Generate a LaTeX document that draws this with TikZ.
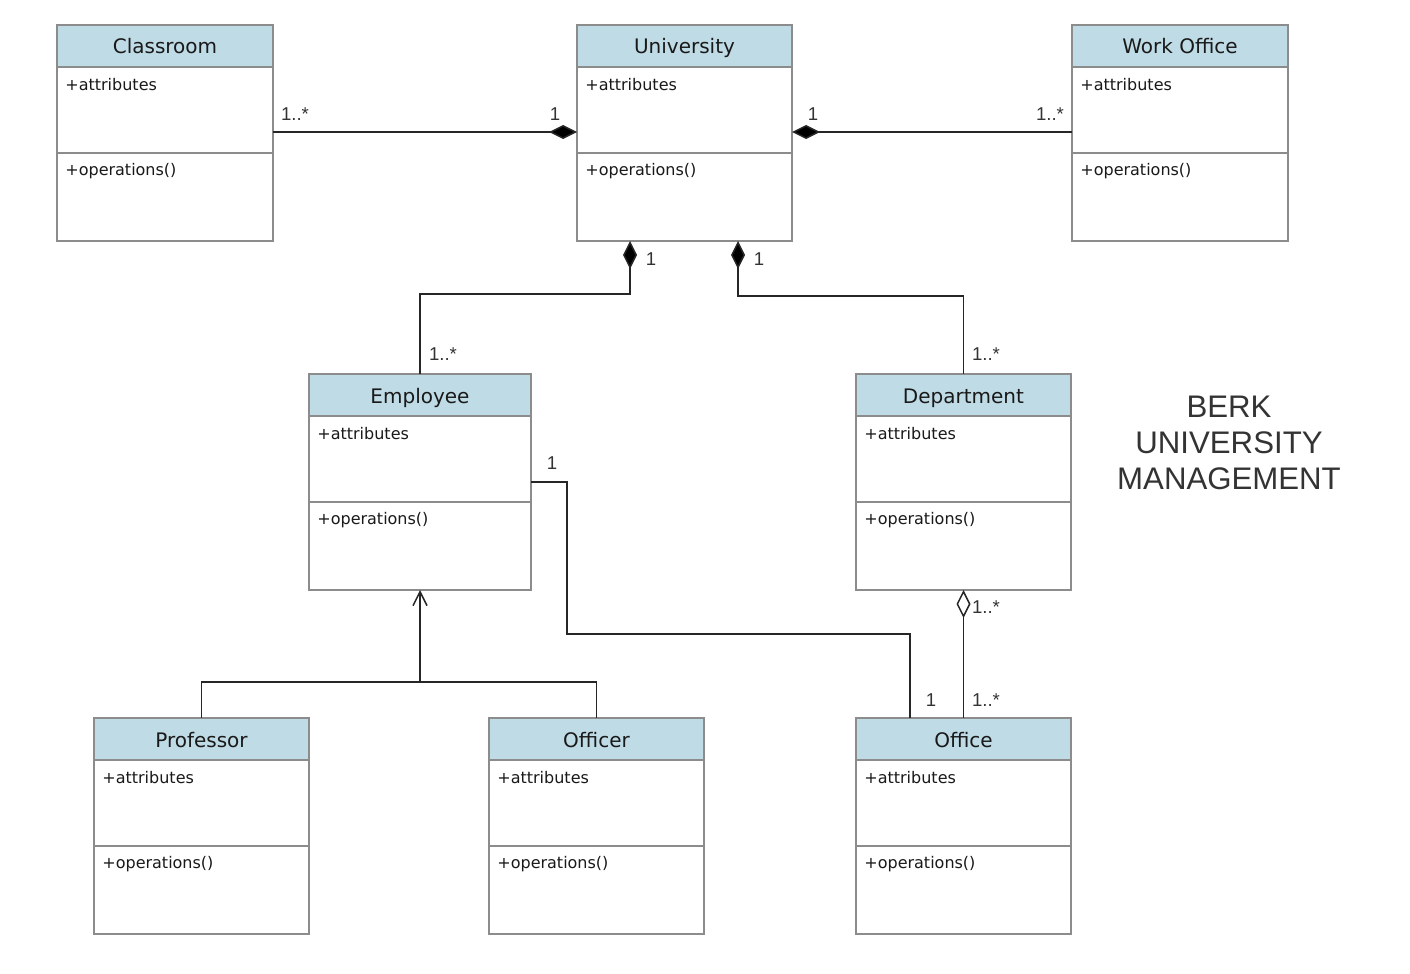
\documentclass[tikz,border=0pt]{standalone}
\usepackage{fontspec}
\setmainfont{DejaVu Sans}
\newfontfamily\lblfont{Liberation Sans}
\usetikzlibrary{arrows.meta,positioning,calc}
\definecolor{hdrfill}{RGB}{191,219,229}
\definecolor{bordergray}{RGB}{140,140,140}
\definecolor{lblgray}{RGB}{51,51,51}
\tikzset{
  classbox/.style={draw=bordergray, line width=0.6pt, fill=white, anchor=north west, minimum height=108pt, inner sep=0pt, outer sep=0pt},
  classhead/.style={draw=bordergray, line width=0.6pt, fill=hdrfill, anchor=north west, minimum height=21pt, inner sep=0pt, outer sep=0pt, text height=8pt, text depth=0pt, font=\fontsize{10}{12}\selectfont, text=black!90},
  member/.style={anchor=west, inner sep=0pt, font=\fontsize{8}{10}\selectfont, text=black!90},
  divider/.style={draw=bordergray, line width=0.6pt},
  conn/.style={draw=black!85, line width=0.75pt},
  lbl/.style={font=\lblfont\fontsize{9.3}{11}\selectfont, text=lblgray, inner sep=0pt},
  compo/.style={{Diamond[fill=black,length=14pt,width=7pt]}-},
  aggr/.style={{Diamond[open,fill=white,length=14pt,width=7pt]}-},
  gener/.style={-{Straight Barb[length=7pt,width=7pt]}},
}
\newcommand\umlclass[5]{%
  \node[classbox, minimum width=#4*0.5pt] (#1) at (#2,#3) {};
  \node[classhead, minimum width=#4*0.5pt] (#1-h) at (#1.north west) {#5};
  \draw[divider] ([yshift=-64pt]#1.north west) -- ([yshift=-64pt]#1.north east);
  \node[member] (#1-a) at ([xshift=4pt,yshift=-30pt]#1.north west) {+attributes};
  \node[member] (#1-o) at ([xshift=4pt,yshift=-73pt]#1.north west) {+operations()};
}
\begin{document}
\begin{tikzpicture}[x=0.5pt,y=-0.5pt]
\useasboundingbox (0,0) rectangle (1410,974);
\umlclass{classroom}{57}{25}{216}{Classroom}
\umlclass{university}{577}{25}{215}{University}
\umlclass{workoffice}{1072}{25}{216}{Work Office}
\umlclass{employee}{309}{374}{222}{Employee}
\umlclass{department}{856}{374}{215}{Department}
\umlclass{professor}{94}{718}{215}{Professor}
\umlclass{officer}{489}{718}{215}{Officer}
\umlclass{office}{856}{718}{215}{Office}

% Classroom -- University
\draw[conn,-{Diamond[fill=black,length=14pt,width=7pt]}] ([yshift=-53.5pt]classroom.north east) -- ([yshift=-53.5pt]university.north west);
% University -- Work Office
\draw[conn,compo] ([yshift=-53.5pt]university.north east) -- ([yshift=-53.5pt]workoffice.north west);
% University -- Employee
\draw[conn,compo] ([xshift=26.5pt]university.south west) -- ++(0,-26.5pt) -| (employee.north);
% University -- Department
\draw[conn,compo] ([xshift=80.5pt]university.south west) -- ++(0,-27.5pt) -| (department.north);
% Employee -- Office
\coordinate (eo) at (567,634);
\draw[conn] ([yshift=-54pt]employee.north east) -| (eo) -| ([xshift=27pt]office.north west);
% Department -- Office
\draw[conn,aggr] (department.south) -- (office.north);
% Generalization
\coordinate (g) at (420,682);
\draw[conn] (professor.north) |- (g) -| (officer.north);
\draw[conn,gener] (g) -- (employee.south);

% multiplicities
\node[lbl] (m1) at (295,114) {1..*};
\node[lbl] (m2) at (555,114) {1};
\node[lbl] (m3) at (813,114) {1};
\node[lbl] (m4) at (1050,114) {1..*};
\node[lbl] (m5) at (651,259) {1};
\node[lbl] (m6) at (759,259) {1};
\node[lbl] (m7) at (443,354) {1..*};
\node[lbl] (m8) at (986,354) {1..*};
\node[lbl] (m9) at (552,463) {1};
\node[lbl] (m10) at (986,607) {1..*};
\node[lbl] (m11) at (931,700) {1};
\node[lbl] (m12) at (986,700) {1..*};

% title
\node[font=\lblfont\fontsize{15.6}{18}\selectfont, text=lblgray, align=center, inner sep=0pt] (title) at (1229,443) {BERK\\UNIVERSITY\\MANAGEMENT};
\end{tikzpicture}
\end{document}
